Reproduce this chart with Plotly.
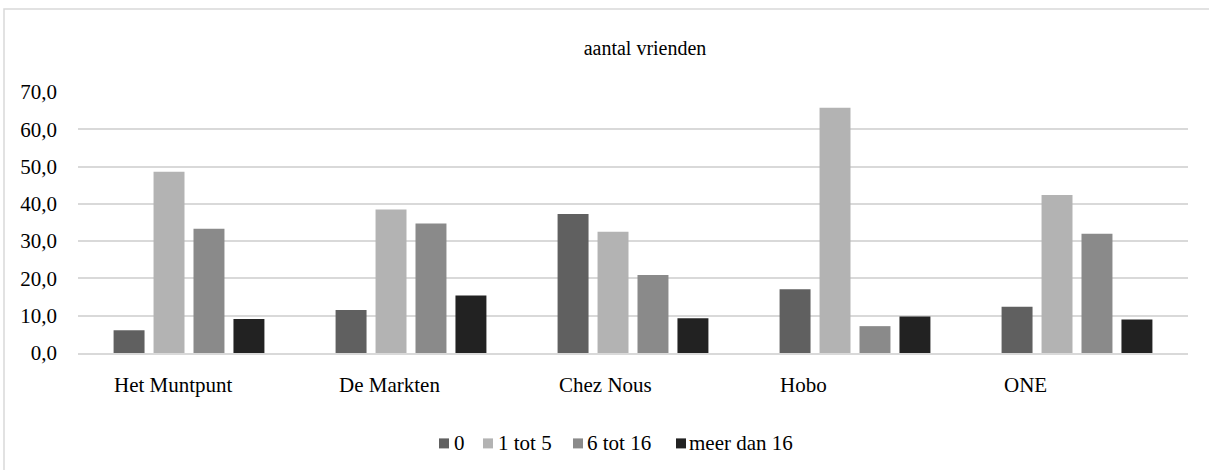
import plotly.graph_objects as go

categories = ["Het Muntpunt", "De Markten", "Chez Nous", "Hobo", "ONE"]
series_names = ["0", "1 tot 5", "6 tot 16", "meer dan 16"]
vals_0 = [6.1, 11.5, 37.3, 17.1, 12.4]
vals_1_5 = [48.6, 38.5, 32.5, 65.8, 42.4]
vals_6_16 = [33.3, 34.7, 20.9, 7.2, 32.0]
vals_16p = [9.1, 15.4, 9.3, 9.8, 9.0]
y_ticks = [0, 10, 20, 30, 40, 50, 60, 70]
y_ticklabels = ["0,0", "10,0", "20,0", "30,0", "40,0", "50,0", "60,0", "70,0"]
title_text = "aantal vrienden"

colors = ["#606060", "#b3b3b3", "#8a8a8a", "#222222"]
series_vals = [vals_0, vals_1_5, vals_6_16, vals_16p]

FONT = "Liberation Serif, Times New Roman, serif"
FS = 21

fig = go.Figure()
for name, vals, col in zip(series_names, series_vals, colors):
    fig.add_trace(go.Bar(name=name, x=categories, y=vals, showlegend=False,
                         marker=dict(color=col, line=dict(width=0))))

W, H = 1209, 470
L, R = 78, 1188
T, B = 92, 352.7
ph = B - T
pw = R - L


def px(xp):
    return (xp - L) / pw


def py(yp):
    return (B - yp) / ph


# category labels slightly left of centre as in the reference
label_offsets = [-0.068, -0.099, -0.126, -0.23, -0.234]
for i, (cat, off) in enumerate(zip(categories, label_offsets)):
    fig.add_annotation(x=i + off, y=py(385), xref="x", yref="paper", text=cat,
                       showarrow=False, xanchor="center", yanchor="middle",
                       font=dict(family=FONT, size=FS, color="#000000"))

# manual legend (square + label)
legend_sq_x = [439, 483, 573, 676]
legend_txt_x = [452, 496, 585, 687]
for name, col, sx, tx in zip(series_names, colors, legend_sq_x, legend_txt_x):
    fig.add_shape(type="rect", xref="paper", yref="paper",
                  x0=px(sx), x1=px(sx + 10), y0=py(448), y1=py(438),
                  line=dict(width=0), fillcolor=col)
    fig.add_annotation(x=px(tx), y=py(443), xref="paper", yref="paper", text=name,
                       showarrow=False, xanchor="left", yanchor="middle",
                       font=dict(family=FONT, size=FS, color="#000000"))

fig.add_shape(type="rect", xref="paper", yref="paper",
              x0=px(4), x1=px(1260), y0=py(520), y1=py(9),
              line=dict(color="#d9d9d9", width=1.5), fillcolor="rgba(0,0,0,0)", layer="below")

fig.update_layout(
    width=W, height=H,
    margin=dict(l=L, r=W - R, t=T, b=H - B, pad=0),
    paper_bgcolor="white", plot_bgcolor="white",
    barmode="group", bargap=0.28, bargroupgap=0.225,
    title=dict(text=title_text, x=645 / W, xanchor="center", y=1 - 48 / H, yanchor="middle",
               font=dict(family=FONT, size=20, color="#000000")),
    font=dict(family=FONT, size=FS, color="#000000"),
    xaxis=dict(showticklabels=False, showgrid=False, showline=True, linecolor="#d9d9d9",
               linewidth=1.5, ticks="", zeroline=False),
    yaxis=dict(range=[0, 70], tickvals=y_ticks, ticktext=y_ticklabels, showgrid=True,
               gridcolor="#d9d9d9", gridwidth=1.5, zeroline=False, showline=False, ticks="",
               ticklabelstandoff=20, tickfont=dict(family=FONT, size=FS, color="#000000")),
    showlegend=False,
)

fig.write_html("out.html", config={"displayModeBar": False},
               post_script="document.body.style.margin='0';")
